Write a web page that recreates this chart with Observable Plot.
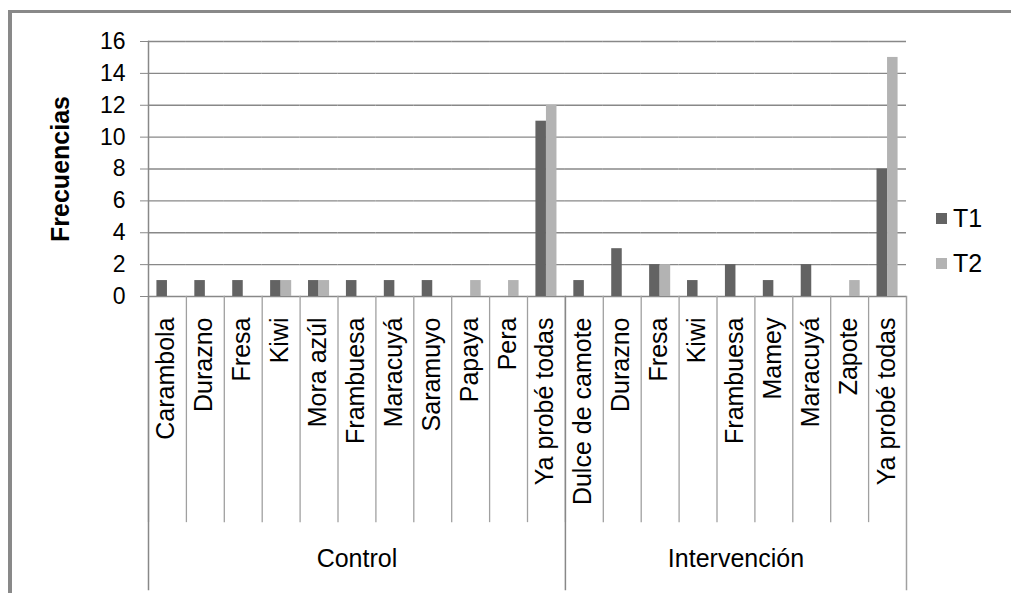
<!DOCTYPE html>
<html>
<head>
<meta charset="utf-8">
<script src="https://cdn.jsdelivr.net/npm/d3@7"></script>
<script src="https://cdn.jsdelivr.net/npm/@observablehq/plot@0.6"></script>
<style>
  html, body { margin: 0; padding: 0; background: #fff; overflow: hidden; }
  #wrap { position: relative; width: 1011px; height: 593px; overflow: hidden; font-family: "Liberation Sans", Arial, sans-serif; }
  #border { position: absolute; left: 8px; top: 10px; width: 2000px; height: 2000px; border-left: 4px solid #898989; border-top: 3px solid #898989; }
  #chart { position: absolute; left: 0; top: 0; }
  #legend { position: absolute; left: 936px; top: 196px; font-size: 25px; color: #000; }
  #legend .item { display: flex; align-items: center; height: 45px; }
  #legend .sw { width: 11px; height: 11px; margin-right: 6px; }
</style>
</head>
<body>
<div id="wrap">
  <div id="border"></div>
  <div id="chart"></div>
  <div id="legend"></div>
</div>
<script>
// ---- data ----
const groups = ["Control", "Intervención"];
const controlFruits = ["Carambola", "Durazno", "Fresa", "Kiwi", "Mora azúl", "Frambuesa", "Maracuyá", "Saramuyo", "Papaya", "Pera", "Ya probé todas"];
const controlT1 = [1, 1, 1, 1, 1, 1, 1, 1, 0, 0, 11];
const controlT2 = [0, 0, 0, 1, 1, 0, 0, 0, 1, 1, 12];
const interFruits = ["Dulce de camote", "Durazno", "Fresa", "Kiwi", "Frambuesa", "Mamey", "Maracuyá", "Zapote", "Ya probé todas"];
const interT1 = [1, 3, 2, 1, 2, 1, 2, 0, 8];
const interT2 = [0, 0, 2, 0, 0, 0, 0, 1, 15];
const series = ["T1", "T2"];
const seriesColors = ["#636363", "#b3b3b3"];
const yTicks = [0, 2, 4, 6, 8, 10, 12, 14, 16];
const yTitle = "Frecuencias";

// ---- build tables ----
const groupData = [
  {group: groups[0], fruits: controlFruits, t1: controlT1, t2: controlT2},
  {group: groups[1], fruits: interFruits, t1: interT1, t2: interT2}
];
const cats = [];
const rows = [];
const groupLabels = [];
const groupFirst = [];
const groupLast = [];
for (const g of groupData) {
  g.fruits.forEach((f, i) => {
    const key = g.group + "|" + f;
    cats.push({key, fruit: f, group: g.group});
    rows.push({key, series: series[0], value: g.t1[i]});
    rows.push({key, series: series[1], value: g.t2[i]});
  });
  const keyOf = (i) => g.group + "|" + g.fruits[i];
  groupLabels.push({key: keyOf(Math.floor(g.fruits.length / 2)), group: g.group});
  groupFirst.push(keyOf(0));
  groupLast.push(keyOf(g.fruits.length - 1));
}
const keys = cats.map(d => d.key);

// ---- layout ----
const W = 1011, H = 593;
const mL = 148, mR = 105, mT = 41, mB = 297;
const plotH = H - mT - mB;
const sepDrop = 225;   // category separator length below axis
const grpDrop = 293;   // group separator length below axis
const gridColor = "#888888";
const sepColor = "#a0a0a0";
const font = "'Liberation Sans', Arial, sans-serif";

const marks = [
  Plot.gridY(yTicks, {stroke: gridColor, strokeOpacity: 1, strokeWidth: 1.3}),
  // category separators below the axis
  Plot.frame({anchor: "left", stroke: sepColor, strokeWidth: 1.3, insetTop: plotH, insetBottom: -sepDrop}),
  // group separators
  ...groupFirst.map((k, i) => Plot.frame({anchor: "left", fx: () => k, stroke: gridColor, strokeWidth: 1.5,
      insetTop: i === 0 ? 0 : plotH, insetBottom: -grpDrop})),
  Plot.frame({anchor: "right", fx: () => groupLast[groupLast.length - 1], stroke: sepColor, strokeWidth: 1.5,
      insetTop: plotH, insetBottom: -grpDrop}),
  Plot.barY(rows.filter(d => d.value > 0), {fx: "key", x: "series", y: "value", fill: "series"}),
  Plot.axisY(yTicks, {tickSize: 8, tickPadding: 15, fontSize: 23, stroke: gridColor, fill: "#000", label: null}),
  Plot.text(cats, {fx: "key", text: "fruit", frameAnchor: "bottom", rotate: -90, textAnchor: "end",
      dx: 7, dy: 21, fontSize: 25, fill: "#000"}),
  Plot.text(groupLabels, {fx: "key", text: "group", frameAnchor: "bottom", dy: 270, fontSize: 25, fill: "#000"}),
  Plot.text([yTitle], {fx: () => keys[0], text: d => d, frameAnchor: "left", textAnchor: "middle", dx: -88, rotate: -90,
      fontSize: 25, fontWeight: "bold", fill: "#000"})
];

const chart = Plot.plot({
  width: W, height: H,
  marginLeft: mL, marginRight: mR, marginTop: mT, marginBottom: mB,
  style: {fontFamily: font, background: "transparent", overflow: "visible"},
  fx: {domain: keys, padding: 0, round: false, axis: null, label: null},
  x: {domain: series, paddingInner: 0, paddingOuter: 0.8, round: false, axis: null},
  y: {domain: [0, 16], axis: null},
  color: {domain: series, range: seriesColors},
  marks
});
document.getElementById("chart").appendChild(chart);

// ---- legend ----
const legend = document.getElementById("legend");
series.forEach((s, i) => {
  const item = document.createElement("div");
  item.className = "item";
  const sw = document.createElement("span");
  sw.className = "sw";
  sw.style.background = seriesColors[i];
  const lab = document.createElement("span");
  lab.textContent = s;
  item.appendChild(sw);
  item.appendChild(lab);
  legend.appendChild(item);
});
</script>
</body>
</html>
